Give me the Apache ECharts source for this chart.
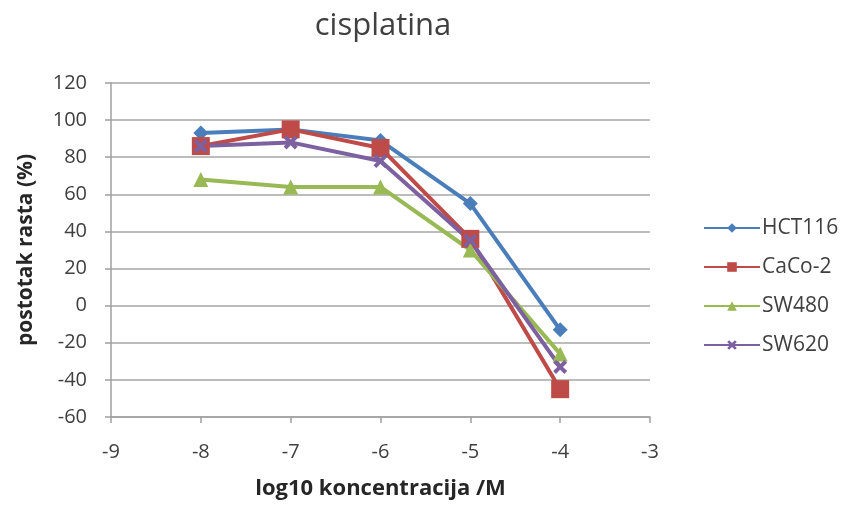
<!DOCTYPE html>
<html><head><meta charset="utf-8">
<script src="https://cdn.jsdelivr.net/npm/echarts@6/dist/echarts.min.js"></script>
<style>html,body{margin:0;padding:0;background:#fff}#c{width:847px;height:506px}</style>
</head><body><div id="c"></div>
<script>
var xValues = [-8, -7, -6, -5, -4];
var seriesNames = ['HCT116', 'CaCo-2', 'SW480', 'SW620'];
var hct116 = [93, 95, 89, 55, -13];
var caco2 = [86, 95, 85, 36, -45];
var sw480 = [68, 64, 64, 30, -26];
var sw620 = [86, 88, 78, 35, -33];
var xTicks = [-9, -8, -7, -6, -5, -4, -3];
var yTicks = [-60, -40, -20, 0, 20, 40, 60, 80, 100, 120];

var FONT = 'Open Sans';
var xMark = 'path://M0,2 L2,0 L5,3 L8,0 L10,2 L7,5 L10,8 L8,10 L5,7 L2,10 L0,8 L3,5 Z';
function pairs(v){ return xValues.map(function(x,i){ return [x, v[i]]; }); }
var defs = [
  {name: seriesNames[0], data: hct116, color: '#4A7EBB', symbol: 'diamond', size: 15},
  {name: seriesNames[1], data: caco2, color: '#BE4B48', symbol: 'rect', size: 18},
  {name: seriesNames[2], data: sw480, color: '#98B954', symbol: 'triangle', size: 15},
  {name: seriesNames[3], data: sw620, color: '#7D60A0', symbol: xMark, size: 14}
];
var chart = echarts.init(document.getElementById('c'));
chart.setOption({
  animation: false,
  backgroundColor: '#fff',
  title: {text: 'cisplatina', left: 378, top: 6, textAlign: 'center',
    textStyle: {fontFamily: FONT, fontSize: 31, fontWeight: 'normal', color: '#404040'}},
  legend: {orient: 'vertical', left: 698, top: 212, itemGap: 17, itemWidth: 56, itemHeight: 12,
    data: seriesNames,
    textStyle: {fontFamily: FONT, fontSize: 21, lineHeight: 22, color: '#404040', padding: [0,0,0,-3]}},
  grid: {left: 111, right: 197, top: 83, bottom: 89, containLabel: false},
  xAxis: {type: 'value', min: xTicks[0], max: xTicks[xTicks.length-1], interval: 1,
    name: 'log10 koncentracija /M', nameLocation: 'middle', nameGap: 61,
    nameTextStyle: {fontFamily: FONT, fontSize: 22, fontWeight: 'bold', color: '#262626'},
    axisLine: {show: true, onZero: false, lineStyle: {color: '#A0A0A0', width: 1.5}},
    axisTick: {show: true, inside: false, length: 6, lineStyle: {color: '#A0A0A0', width: 1.5}},
    axisLabel: {fontFamily: FONT, fontSize: 20, color: '#404040', margin: 25},
    splitLine: {show: false}},
  yAxis: {type: 'value', min: yTicks[0], max: yTicks[yTicks.length-1], interval: 20,
    name: 'postotak rasta (%)', nameLocation: 'middle', nameGap: 74, nameRotate: 90,
    nameTextStyle: {fontFamily: FONT, fontSize: 21, fontWeight: 'bold', color: '#262626'},
    axisLine: {show: true, onZero: false, lineStyle: {color: '#A0A0A0', width: 1.5}},
    axisTick: {show: true, inside: false, length: 6, lineStyle: {color: '#A0A0A0', width: 1.5}},
    axisLabel: {fontFamily: FONT, fontSize: 20, color: '#404040', margin: 24},
    splitLine: {show: true, lineStyle: {color: '#A6A6A6', width: 1.5}}},
  series: defs.map(function(d){
    return {type: 'line', name: d.name, data: pairs(d.data), symbol: d.symbol, symbolSize: d.size,
      showAllSymbol: true,
      lineStyle: {color: d.color, width: 4}, itemStyle: {color: d.color, borderWidth: 0},
      emphasis: {disabled: true}};
  })
});
</script></body></html>
